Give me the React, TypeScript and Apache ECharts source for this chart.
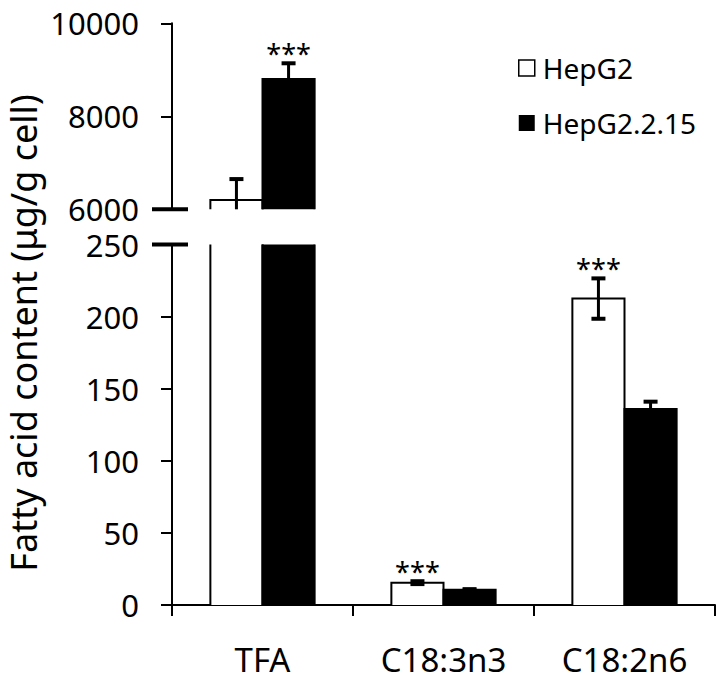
import React, { useEffect, useRef } from "react";
import * as echarts from "echarts";

const categories = ["TFA", "C18:3n3", "C18:2n6"];
const hepg2Values = [6200, 15.5, 212.5];
const hepg2Errors = [450, 1, 14];
const hepg2Sig = ["", "***", "***"];
const hepg215Values = [8800, 10.5, 136];
const hepg215Errors = [340, 0.5, 5];
const hepg215Sig = ["***", "", ""];
const topAxis = { min: 6000, max: 10000, interval: 2000 };
const bottomAxis = { min: 0, max: 250, interval: 50 };
const seriesNames = ["HepG2", "HepG2.2.15"];
const yTitle = "Fatty acid content (μg/g cell)";

const FONT = "'Noto Sans', 'Open Sans', sans-serif";

const GRID_LEFT = 172;
const GRID_WIDTH = 543;
const TOP_GRID = { top: 23.3, height: 186 };
const BOTTOM_GRID = { top: 244.5, height: 360.5 };

function makeRender(fill: string, side: number, sig: string[]) {
  return (params: any, api: any) => {
    const cs = params.coordSys;
    const cat = api.value(0);
    const v = api.value(1);
    const e = api.value(2);
    const band = api.size([1, 0])[0];
    const bw = band * 0.288;
    const center = api.coord([cat, 0])[0];
    const x0 = side < 0 ? center - bw : center;
    const x1 = x0 + bw;
    const bcx = (x0 + x1) / 2;
    const yBottom = cs.y + cs.height;
    const yTopLimit = cs.y;
    const children: any[] = [];
    const yv = api.coord([cat, v])[1];
    if (yv < yBottom) {
      const clipped = yv < yTopLimit;
      const top = Math.max(yv, yTopLimit);
      children.push({
        type: "rect",
        shape: { x: x0, y: top, width: bw, height: yBottom - top },
        style: { fill, stroke: null },
      });
      if (clipped) {
        children.push({
          type: "line",
          shape: { x1: x0, y1: top, x2: x0, y2: yBottom },
          style: { stroke: "#000", lineWidth: 2 },
        });
        children.push({
          type: "line",
          shape: { x1: x1, y1: top, x2: x1, y2: yBottom },
          style: { stroke: "#000", lineWidth: 2 },
        });
      } else {
        children.push({
          type: "polyline",
          shape: {
            points: [
              [x0, yBottom],
              [x0, top],
              [x1, top],
              [x1, yBottom],
            ],
          },
          style: { stroke: "#000", lineWidth: 2, fill: null },
        });
      }
    }
    // error bar
    const yHi = api.coord([cat, v + e])[1];
    const yLo = api.coord([cat, v - e])[1];
    const capW = 14;
    if (yHi < yBottom && yLo > yTopLimit) {
      const a = Math.max(yHi, yTopLimit);
      const b = Math.min(yLo, yBottom);
      children.push({
        type: "line",
        shape: { x1: bcx, y1: a, x2: bcx, y2: b },
        style: { stroke: "#000", lineWidth: 3 },
      });
      if (yHi >= yTopLimit) {
        children.push({
          type: "line",
          shape: { x1: bcx - capW / 2, y1: yHi, x2: bcx + capW / 2, y2: yHi },
          style: { stroke: "#000", lineWidth: 4 },
        });
      }
      if (yLo <= yBottom) {
        children.push({
          type: "line",
          shape: { x1: bcx - capW / 2, y1: yLo, x2: bcx + capW / 2, y2: yLo },
          style: { stroke: "#000", lineWidth: 4 },
        });
      }
      const s = sig[params.dataIndex];
      if (s && yHi >= yTopLimit) {
        children.push({
          type: "text",
          x: bcx,
          y: yHi - 10,
          style: {
            text: s,
            fill: "#000",
            fontSize: 27,
            fontFamily: FONT,
            align: "center",
            verticalAlign: "middle",
          },
        });
      }
    }
    return { type: "group", children };
  };
}

function rows(values: number[], errors: number[]) {
  return values.map((v, i) => [i, v, errors[i]]);
}

export default function App() {
  const ref = useRef<HTMLDivElement>(null);
  useEffect(() => {
    document.body.style.margin = "0";
    if (!ref.current) return;
    const chart = echarts.init(ref.current, undefined, { renderer: "svg" });
    const axisLineStyle = { color: "#000", width: 2 };
    const yLabel = {
      color: "#000",
      fontSize: 31,
      lineHeight: 30,
      fontFamily: FONT,
      margin: 33,
      showMinLabel: true,
      showMaxLabel: true,
      formatter: (v: number) => String(v),
    };
    const topBreakY = TOP_GRID.top + TOP_GRID.height;
    const bottomBreakY = BOTTOM_GRID.top;
    const option: any = {
      animation: false,
      backgroundColor: "#fff",
      textStyle: { fontFamily: FONT },
      grid: [
        { left: GRID_LEFT, width: GRID_WIDTH, top: TOP_GRID.top, height: TOP_GRID.height },
        { left: GRID_LEFT, width: GRID_WIDTH, top: BOTTOM_GRID.top, height: BOTTOM_GRID.height },
      ],
      legend: {
        orient: "vertical",
        left: 518,
        top: 54,
        padding: 0,
        itemWidth: 16,
        itemHeight: 16,
        itemGap: 27,
        textStyle: { fontSize: 28, fontFamily: FONT, color: "#000", lineHeight: 28, padding: [0, 0, 0, 3] },
        data: [
          { name: seriesNames[0], icon: "rect", itemStyle: { color: "#fff", borderColor: "#000", borderWidth: 1.5 } },
          { name: seriesNames[1], icon: "rect", itemStyle: { color: "#000", borderColor: "#000", borderWidth: 0 } },
        ],
      },
      xAxis: [
        { type: "category", gridIndex: 0, data: categories, show: false },
        {
          type: "category",
          gridIndex: 1,
          data: categories,
          axisLine: { lineStyle: axisLineStyle },
          axisTick: { show: true, length: 11, alignWithLabel: false, lineStyle: axisLineStyle },
          axisLabel: { color: "#000", fontSize: 33, fontFamily: FONT, margin: 38 },
        },
      ],
      yAxis: [
        {
          type: "value",
          gridIndex: 0,
          min: topAxis.min,
          max: topAxis.max,
          interval: topAxis.interval,
          splitLine: { show: false },
          axisLine: { show: true, lineStyle: axisLineStyle },
          axisTick: { show: true, length: 11, lineStyle: axisLineStyle },
          axisLabel: yLabel,
        },
        {
          type: "value",
          gridIndex: 1,
          min: bottomAxis.min,
          max: bottomAxis.max,
          interval: bottomAxis.interval,
          splitLine: { show: false },
          axisLine: { show: true, lineStyle: axisLineStyle },
          axisTick: { show: true, length: 11, lineStyle: axisLineStyle },
          axisLabel: yLabel,
        },
      ],
      series: [
        {
          type: "custom",
          name: seriesNames[0],
          xAxisIndex: 0,
          yAxisIndex: 0,
          renderItem: makeRender("#fff", -1, hepg2Sig),
          encode: { x: 0, y: 1 },
          data: rows(hepg2Values, hepg2Errors),
          itemStyle: { color: "#fff", borderColor: "#000" },
        },
        {
          type: "custom",
          name: seriesNames[1],
          xAxisIndex: 0,
          yAxisIndex: 0,
          renderItem: makeRender("#000", 1, hepg215Sig),
          encode: { x: 0, y: 1 },
          data: rows(hepg215Values, hepg215Errors),
          itemStyle: { color: "#000" },
        },
        {
          type: "custom",
          name: seriesNames[0],
          xAxisIndex: 1,
          yAxisIndex: 1,
          renderItem: makeRender("#fff", -1, hepg2Sig),
          encode: { x: 0, y: 1 },
          data: rows(hepg2Values, hepg2Errors),
          itemStyle: { color: "#fff", borderColor: "#000" },
        },
        {
          type: "custom",
          name: seriesNames[1],
          xAxisIndex: 1,
          yAxisIndex: 1,
          renderItem: makeRender("#000", 1, hepg215Sig),
          encode: { x: 0, y: 1 },
          data: rows(hepg215Values, hepg215Errors),
          itemStyle: { color: "#000" },
        },
      ],
      graphic: [
        {
          type: "line",
          shape: { x1: GRID_LEFT - 20, y1: topBreakY, x2: GRID_LEFT + 16, y2: topBreakY },
          style: { stroke: "#000", lineWidth: 4 },
          z: 100,
        },
        {
          type: "line",
          shape: { x1: GRID_LEFT - 20, y1: bottomBreakY, x2: GRID_LEFT + 16, y2: bottomBreakY },
          style: { stroke: "#000", lineWidth: 4 },
          z: 100,
        },
        {
          type: "text",
          x: 23,
          y: 333,
          rotation: Math.PI / 2,
          style: {
            text: yTitle,
            fill: "#000",
            fontSize: 36,
            fontFamily: FONT,
            align: "center",
            verticalAlign: "middle",
          },
        },
      ],
    };
    chart.setOption(option);
    return () => chart.dispose();
  }, []);
  return <div ref={ref} style={{ width: 725, height: 681 }} />;
}
